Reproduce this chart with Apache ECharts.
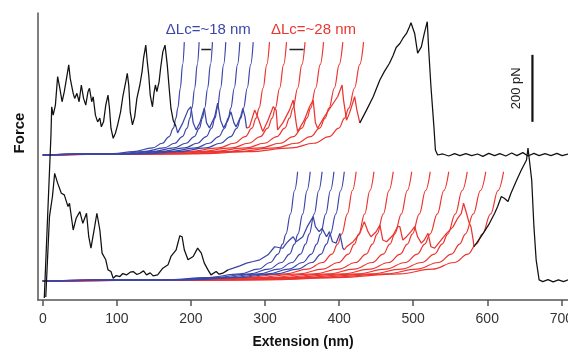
<!DOCTYPE html>
<html>
<head>
<meta charset="utf-8">
<script src="https://cdn.jsdelivr.net/npm/echarts@6/dist/echarts.min.js"></script>
<style>
  html, body { margin: 0; padding: 0; background: #fff; }
  #chart { width: 568px; height: 350px; }
</style>
</head>
<body>
<div id="chart"></div>
<script>
// extension in nm, force in pN (bottom trace baseline = 0)
const TOP_OFFSET = 376; // upper trace is shifted up by this many pN
const BLUE = '#3c46a8';
const RED = '#ec3530';
const xTicks = [0, 100, 200, 300, 400, 500, 600, 700];

// upper trace, split by colour
const topBlack1 = [[2,-427],[11,60],[12,144],[14,119],[17,149],[20,234],[23,199],[26,159],[29,189],[32,229],[35,269],[37,229],[41,184],[43,169],[46,184],[49,159],[52,209],[55,169],[58,149],[61,189],[63,199],[66,159],[68,174],[71,119],[74,99],[77,110],[79,84],[82,99],[85,149],[88,179],[90,139],[92,80],[95,50],[98,65],[101,90],[105,129],[108,174],[112,219],[114,244],[116,209],[118,129],[121,90],[124,114],[127,169],[131,209],[134,249],[136,289],[139,328],[141,279],[143,239],[145,179],[148,144],[150,184],[152,209],[154,189],[157,219],[159,259],[162,308],[165,328],[168,269],[171,189],[173,139],[176,104],[180,84]];
const topBlue = [[180,84],[182,66],[189,96],[196,134],[200,144],[203,96],[207,75],[212,96],[216,125],[218,140],[221,96],[225,81],[232,114],[236,155],[240,104],[244,81],[250,104],[254,129],[258,96],[261,84],[267,114],[270,139],[273,114],[275,80]];
const topRed = [[275,80],[279,84],[286,134],[290,114],[297,70],[304,104],[311,144],[315,134],[317,75],[324,96],[333,134],[338,164],[342,96],[344,70],[353,104],[360,144],[365,164],[368,96],[371,80],[380,114],[389,144],[398,174],[404,209],[406,164],[410,104],[414,125],[421,174],[424,134],[428,96]];
const topBlack2 = [[428,96],[437,134],[446,174],[455,224],[461,249],[468,274],[473,298],[477,321],[482,333],[486,348],[491,363],[495,383],[497,395],[502,363],[506,304],[511,323],[515,363],[519,398],[521,313],[524,204],[528,84],[530,15],[533,0],[540,3],[548,-3],[556,4],[563,-2],[571,4],[579,-2],[587,3],[594,-4],[602,5],[610,-2],[617,4],[625,-3],[633,6],[640,-2],[648,7],[655,-3],[663,5],[670,-2],[678,4],[686,-2],[694,5],[701,-2],[709,3]];

// lower trace
const botBlack1 = [[4,-48],[9,192],[13,252],[16,321],[20,292],[25,262],[29,257],[34,222],[36,232],[41,152],[45,187],[50,207],[54,172],[59,202],[62,132],[65,98],[70,162],[73,202],[77,152],[80,83],[85,63],[88,33],[92,28],[95,8],[99,16],[104,13],[108,22],[113,18],[118,26],[122,28],[127,19],[131,23],[136,30],[140,18],[145,24],[149,15],[155,18],[162,38],[169,48],[173,73],[180,93],[185,135],[188,132],[191,93],[196,63],[203,73],[209,98],[214,83],[218,53],[223,33],[227,18],[234,28],[238,20],[243,23],[250,33]];
const botBlue = [[250,33],[257,38],[266,45],[275,53],[284,58],[293,63],[304,78],[313,102],[320,99],[324,98],[329,113],[333,122],[338,132],[342,117],[344,113],[351,132],[357,162],[365,192],[368,162],[373,147],[377,157],[383,132],[387,147],[391,117],[396,113],[401,142],[405,98],[407,93]];
const botRed = [[407,93],[410,102],[419,117],[428,142],[434,177],[439,147],[443,132],[450,147],[455,167],[459,122],[464,117],[473,137],[479,162],[482,162],[486,122],[491,132],[497,147],[502,162],[506,132],[511,113],[515,122],[520,142],[524,102],[529,98],[536,117],[545,142],[554,162],[560,187],[565,202],[568,232],[572,202],[575,177],[578,162],[581,122],[582,102]];
const botBlack2 = [[582,102],[590,127],[596,147],[603,172],[610,202],[614,222],[619,252],[623,247],[628,237],[632,262],[637,287],[641,307],[646,331],[653,361],[655,397],[660,301],[663,162],[666,63],[670,3],[675,-2],[682,4],[689,-3],[696,3],[703,-2],[709,3]];

// WLC fit curves: read-off shape (fraction of the top extension at each force)
const fitForce = [0, 4, 10, 21, 35, 55, 80, 110, 140, 200, 270];
const fitFrac = [0, 0.5, 0.64, 0.775, 0.845, 0.893, 0.923, 0.941, 0.954, 0.972, 0.988];
const topFitTopF = 337;
const botFitTopF = 326;
const topBlueTops = [191, 211, 229, 247, 266, 284];
const topRedTops = [306, 329, 354, 379, 405, 433];
const botBlueTops = [344, 361, 377, 393, 407];
const botRedTops = [423, 447, 473, 498, 523, 548, 573, 598, 622];

// annotations
const blueGap = [214, 227];
const redGap = [333, 352];
const gapF = 691;
const scaleBarX = 661;
const scaleBar = [475, 675]; // 200 pN

function shift(arr, off) {
  return arr.map(p => [p[0], p[1] + off]);
}

function fitCurve(xTop, fTop, off) {
  let pts = [];
  for (let i = 0; i < fitForce.length; i++) {
    if (fitForce[i] < fTop) pts.push([xTop * fitFrac[i], fitForce[i] + off]);
  }
  pts.push([xTop, fTop + off]);
  return pts;
}

function traceSeries(data, color, z) {
  return {
    type: 'line', data: data, showSymbol: false, symbol: 'none', z: z,
    lineStyle: { color: color, width: 1.25 }, animation: false
  };
}

function fitSeries(tops, fTop, off, color) {
  return tops.map(t => ({
    type: 'line', data: fitCurve(t, fTop, off), symbol: 'none', z: 2,
    smooth: 0.4, smoothMonotone: 'x',
    lineStyle: { color: color, width: 1.2 }, animation: false
  }));
}

let series = [];
series = series.concat(fitSeries(topRedTops, topFitTopF, TOP_OFFSET, RED));
series = series.concat(fitSeries(botRedTops, botFitTopF, 0, RED));
series = series.concat(fitSeries(topBlueTops, topFitTopF, TOP_OFFSET, BLUE));
series = series.concat(fitSeries(botBlueTops, botFitTopF, 0, BLUE));
series.push(traceSeries(shift(topBlack1, TOP_OFFSET), '#111', 5));
series.push(traceSeries(shift(topBlue, TOP_OFFSET), BLUE, 5));
series.push(traceSeries(shift(topRed, TOP_OFFSET), RED, 5));
series.push(traceSeries(shift(topBlack2, TOP_OFFSET), '#111', 5));
series.push(traceSeries(botBlack1, '#111', 5));
series.push(traceSeries(botBlue, BLUE, 5));
series.push(traceSeries(botRed, RED, 5));
series.push(traceSeries(botBlack2, '#111', 6));
series.push({
  type: 'line', symbol: 'none', z: 6, animation: false,
  data: [[blueGap[0], gapF], [blueGap[1], gapF]],
  lineStyle: { color: '#222', width: 1.3 }
});
series.push({
  type: 'line', symbol: 'none', z: 6, animation: false,
  data: [[redGap[0], gapF], [redGap[1], gapF]],
  lineStyle: { color: '#222', width: 1.3 }
});
series.push({
  type: 'line', symbol: 'none', z: 6, animation: false,
  data: [[scaleBarX, scaleBar[0]], [scaleBarX, scaleBar[1]]],
  lineStyle: { color: '#111', width: 2.2 }
});

let chart = echarts.init(document.getElementById('chart'));
let option = {
  backgroundColor: '#fff',
  animation: false,
  grid: { left: 38, right: 0, top: 13, bottom: 50, outerBoundsMode: 'none', containLabel: false },
  xAxis: {
    type: 'value', min: -6.5, max: 709,
    name: 'Extension (nm)', nameLocation: 'middle', nameGap: 35,
    nameTextStyle: { fontFamily: 'Liberation Sans', fontWeight: 'bold', fontSize: 14, color: '#111' },
    axisLine: { onZero: false, lineStyle: { color: '#555', width: 1.5 } },
    axisTick: { customValues: xTicks, length: 6, lineStyle: { color: '#555', width: 1.5 } },
    axisLabel: { customValues: xTicks, margin: 12, fontFamily: 'Liberation Sans', fontSize: 14, color: '#333' },
    splitLine: { show: false }
  },
  yAxis: {
    type: 'value', min: -57, max: 800,
    axisLine: { show: true, onZero: false, lineStyle: { color: '#555', width: 1.5 } },
    axisTick: { show: false },
    axisLabel: { show: false },
    splitLine: { show: false }
  },
  series: series
};
chart.setOption(option);

let gapPix = chart.convertToPixel({ gridIndex: 0 }, [blueGap[0], gapF]);
let redPix = chart.convertToPixel({ gridIndex: 0 }, [redGap[0], gapF]);
let barPix = chart.convertToPixel({ gridIndex: 0 }, [scaleBarX, (scaleBar[0] + scaleBar[1]) / 2]);

chart.setOption({
  graphic: [
    {
      type: 'text', x: 20, y: 133, rotation: Math.PI / 2,
      style: { text: 'Force', fontFamily: 'Liberation Sans', fontWeight: 'bold', fontSize: 15, fill: '#111', align: 'center', verticalAlign: 'middle' }
    },
    {
      type: 'text', x: barPix[0] - 16, y: barPix[1], rotation: Math.PI / 2,
      style: { text: '200 pN', fontFamily: 'Liberation Sans', fontSize: 13, fill: '#222', align: 'center', verticalAlign: 'middle' }
    },
    {
      type: 'text', x: gapPix[0] + 7, y: gapPix[1] - 20,
      style: { text: 'ΔLc=~18 nm', fontFamily: 'Liberation Sans', fontSize: 15, fill: BLUE, align: 'center', verticalAlign: 'middle' }
    },
    {
      type: 'text', x: redPix[0] + 24, y: redPix[1] - 20,
      style: { text: 'ΔLc=~28 nm', fontFamily: 'Liberation Sans', fontSize: 15, fill: RED, align: 'center', verticalAlign: 'middle' }
    }
  ]
});
</script>
</body>
</html>
